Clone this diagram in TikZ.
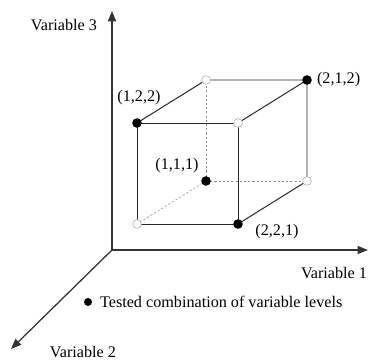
\documentclass[tikz,border=0pt]{standalone}
\usepackage{fontspec}
\setmainfont{Liberation Serif}
\usepackage{tikz}
\usetikzlibrary{positioning,arrows.meta}

\begin{document}
\begin{tikzpicture}[x=0.025cm,y=0.025cm,font=\fontsize{11.5}{13}\selectfont,
    axis/.style={line width=0.9pt,draw=black!80,-{Triangle[length=2.6mm,width=2mm]}},
    edge/.style={line width=0.7pt,draw=black!85},
    hidden/.style={line width=0.4pt,draw=black!45,dashed,dash pattern=on 1.5pt off 1.5pt},
    tested/.style={circle,fill=black,inner sep=0pt,minimum size=2.4mm},
    untested/.style={circle,fill=white,draw=black!35,line width=0.4pt,inner sep=0pt,minimum size=2.2mm}]

% Page frame
\useasboundingbox (0,0) rectangle (368,360);

% Cube geometry
%   front face: x = 137 to 238, y = 136 to 237
%   back face shifted by (69,43)
\def\xL{137}
\def\xR{238}
\def\yB{136}
\def\yT{237}
\def\dx{69}
\def\dy{43}

% Axes
\coordinate (O) at (112,110);
\coordinate (v3) at (112,349);
\coordinate (v1) at (368,110);
\coordinate (v2) at (11,11);
\draw[axis] (O) -- (v3);
\draw[axis] (O) -- (v1);
\draw[axis] (O) -- (v2);

% Axis labels
\node (lab3) at (64,335) {Variable 3};
\node (lab1) at (334,87) {Variable 1};
\node (lab2) at (83,8) {Variable 2};

% Cube corners (hidden ones first)
\coordinate (bbl) at (\xL+\dx,\yB+\dy);
\coordinate (fbl) at (\xL,\yB);
\coordinate (ftl) at (\xL,\yT);
\coordinate (ftr) at (\xR,\yT);
\coordinate (fbr) at (\xR,\yB);
\coordinate (btl) at (\xL+\dx,\yT+\dy);
\coordinate (btr) at (\xR+\dx,\yT+\dy);
\coordinate (bbr) at (\xR+\dx,\yB+\dy);

% Hidden edges
\draw[hidden] (bbl) -- (btl);
\draw[hidden] (bbl) -- (bbr);
\draw[hidden] (bbl) -- (fbl);

% Visible edges
\draw[edge] (fbl) -- (ftl) -- (ftr) -- (fbr) -- cycle;
\draw[edge] (ftl) -- (btl) -- (btr) -- (ftr);
\draw[edge] (btr) -- (bbr) -- (fbr);

% Levels
\node[tested] (p122) at (ftl) {};
\node[tested] (p221) at (fbr) {};
\node[tested] (p212) at (btr) {};
\node[tested] (p111) at (bbl) {};
\foreach \c in {fbl,ftr,btl,bbr} {
    \node[untested] (o\c) at (\c) {};
}

% Level labels
\node (t122) at (139,262) {(1,2,2)};
\node[right=0pt of p212] (t212) {(2,1,2)};
\node (t111) at (177,194) {(1,1,1)};
\node (t221) at (277,128) {(2,2,1)};

% Legend
\node[tested,minimum size=2mm] (key) at (88,58) {};
\node[right=2pt of key] (keytext) {Tested combination of variable levels};

\end{tikzpicture}
\end{document}
